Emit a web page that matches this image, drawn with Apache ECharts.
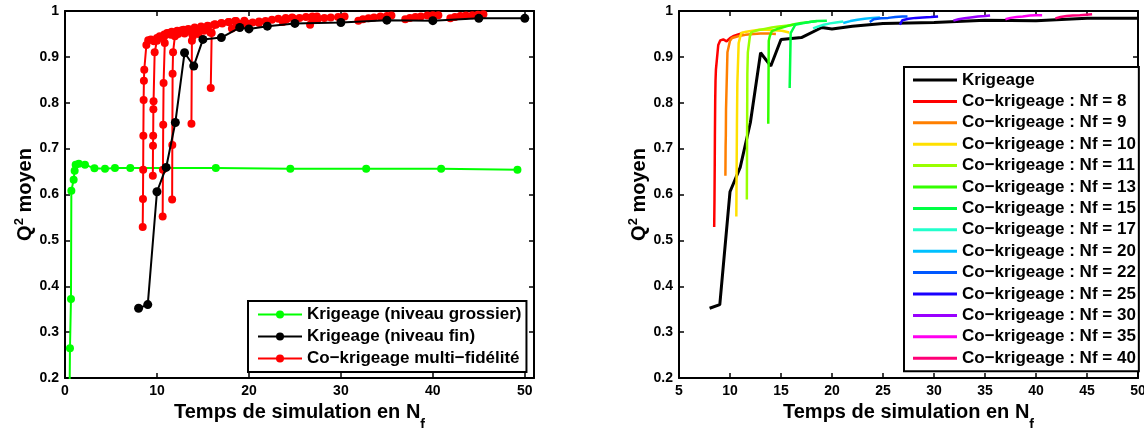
<!DOCTYPE html>
<html><head><meta charset="utf-8">
<script src="https://cdn.jsdelivr.net/npm/echarts@6/dist/echarts.min.js"></script>
<style>html,body{margin:0;padding:0;background:#fff}#c{width:1144px;height:428px}</style>
</head><body><div id="c"></div><script>
// ---- data: [time in N_f, mean Q2] ----
const coarseKrig = [[0.43,0.0],[0.54,0.265],[0.65,0.372],[0.69,0.608],[0.94,0.632],[1.05,0.652],[1.16,0.665],[1.5,0.667],[2.17,0.665],[3.2,0.657],[4.35,0.656],[5.43,0.658],[7.1,0.658],[16.4,0.658],[24.5,0.656],[32.75,0.656],[40.9,0.656],[49.2,0.654]];
const fineKrig = [[8,0.352],[9,0.36],[10,0.606],[11,0.659],[12,0.757],[13,0.909],[14,0.88],[15,0.938],[17,0.942],[19,0.964],[20,0.961],[22,0.967],[25,0.973],[30,0.975],[35,0.98],[40,0.979],[45,0.984],[50,0.984]];
const nfLevels = [8,9,10,11,13,15,17,20,22,25,30,35,40];
const coKrig8  = [[8.45,0.529],[8.48,0.59],[8.5,0.654],[8.52,0.728],[8.55,0.806],[8.58,0.848],[8.62,0.872],[8.85,0.926],[9.05,0.936],[9.34,0.938],[9.67,0.934],[10.0,0.941],[10.3,0.945],[10.8,0.949],[11.3,0.952]];
const coKrig9  = [[9.55,0.641],[9.57,0.706],[9.59,0.728],[9.61,0.786],[9.63,0.803],[9.75,0.91],[10.0,0.935],[10.2,0.941],[10.8,0.945],[11.5,0.948],[12.3,0.95],[13.0,0.951],[13.8,0.951],[14.5,0.95]];
const coKrig10 = [[10.62,0.552],[10.65,0.654],[10.68,0.752],[10.72,0.843],[10.85,0.93],[11.1,0.952],[11.6,0.955],[12.2,0.957],[12.9,0.959],[13.6,0.959],[14.3,0.958],[15.1,0.957],[15.8,0.953]];
const coKrig11 = [[11.65,0.589],[11.67,0.708],[11.7,0.863],[11.75,0.91],[11.95,0.945],[12.1,0.954],[12.7,0.958],[13.4,0.961],[14.1,0.964],[14.8,0.966],[15.5,0.968],[16.2,0.97]];
const coKrig13 = [[13.75,0.754],[13.8,0.935],[13.9,0.945],[14.1,0.956],[14.8,0.962],[15.6,0.967],[16.3,0.971],[17.0,0.974],[17.8,0.976],[18.5,0.978]];
const coKrig15 = [[15.85,0.832],[15.95,0.952],[16.4,0.97],[17.1,0.973],[17.8,0.976],[18.6,0.978],[19.5,0.979]];
const coKrig17 = [[18.15,0.962],[18.6,0.966],[19.2,0.97],[19.8,0.973],[20.4,0.975],[21.1,0.977]];
const coKrig20 = [[21.1,0.974],[21.8,0.978],[22.5,0.981],[23.2,0.983],[24.0,0.985],[24.7,0.986]];
const coKrig22 = [[23.7,0.976],[24.1,0.982],[24.8,0.984],[25.5,0.985],[26.2,0.987],[26.9,0.988],[27.4,0.988]];
const coKrig25 = [[26.65,0.97],[26.9,0.98],[27.5,0.983],[28.2,0.985],[28.9,0.986],[29.7,0.987],[30.4,0.988]];
const coKrig30 = [[31.9,0.979],[32.4,0.982],[33.0,0.984],[33.6,0.986],[34.3,0.988],[35.0,0.989],[35.5,0.99]];
const coKrig35 = [[37.0,0.982],[37.5,0.985],[38.1,0.987],[38.7,0.988],[39.4,0.99],[40.0,0.991],[40.6,0.991]];
const coKrig40 = [[41.9,0.984],[42.4,0.987],[43.0,0.989],[43.6,0.99],[44.3,0.991],[44.9,0.992],[45.5,0.993]];
const coKrigAll = [coKrig8,coKrig9,coKrig10,coKrig11,coKrig13,coKrig15,coKrig17,coKrig20,coKrig22,coKrig25,coKrig30,coKrig35,coKrig40];
const nfColors = ['#ff0000','#ff7f00','#ffe000','#99ff00','#33ff00','#00ff44','#22ffcc','#00c0ff','#0058ff','#1a00ff','#9900ff','#ff00f0','#ff0077'];
const yTicks = {min:0.2, max:1, interval:0.1};
const xLeft = {min:0, max:51, interval:10};
const xRight = {min:5, max:50, interval:5};

// ---- names ----
const nmCoarse = 'Krigeage (niveau grossier)';
const nmFine = 'Krigeage (niveau fin)';
const nmCo = 'Co\u2212krigeage multi\u2212fid\u00e9lit\u00e9';
const nmKrig = 'Krigeage';
const nmNf = nfLevels.map(n => 'Co\u2212krigeage : Nf = ' + n);

const FF = '"Liberation Sans", Arial, Helvetica, sans-serif';
const axisCommon = (extra) => Object.assign({
  type:'value', splitLine:{show:false},
  axisLine:{show:true, onZero:false, lineStyle:{color:'#000', width:2}},
  axisTick:{show:true, inside:true, length:5, lineStyle:{color:'#000', width:1.5}},
  axisLabel:{color:'#000', fontSize:14, fontWeight:'bold', fontFamily:FF, margin:6, showMaxLabel:true}
}, extra);
const noLab = {axisLabel:{show:false}};

const xName = {
  name:'{a|Temps de simulation en N}{b|f}', nameLocation:'middle', nameGap:13,
  nameTextStyle:{rich:{
    a:{fontSize:20, fontWeight:'bold', fontFamily:FF, color:'#000'},
    b:{fontSize:14, fontWeight:'bold', fontFamily:FF, color:'#000', padding:[24,0,0,0]}
  }}
};
const yName = {
  name:'{a|Q}{b|2}{a| moyen}', nameLocation:'middle', nameGap:23, nameRotate:90,
  nameTextStyle:{rich:{
    a:{fontSize:20, fontWeight:'bold', fontFamily:FF, color:'#000'},
    b:{fontSize:13, fontWeight:'bold', fontFamily:FF, color:'#000', padding:[0,0,12,0]}
  }}
};

const xAxes = [
  axisCommon(Object.assign({gridIndex:0, position:'bottom'}, xLeft, xName, {axisLabel:{color:'#000', fontSize:14, fontWeight:'bold', fontFamily:FF, margin:6, showMaxLabel:false}})),
  axisCommon(Object.assign({gridIndex:0, position:'top'}, xLeft, noLab)),
  axisCommon(Object.assign({gridIndex:1, position:'bottom'}, xRight, xName)),
  axisCommon(Object.assign({gridIndex:1, position:'top'}, xRight, noLab))
];
const yAxes = [
  axisCommon(Object.assign({gridIndex:0, position:'left'}, yTicks, yName)),
  axisCommon(Object.assign({gridIndex:0, position:'right'}, yTicks, noLab)),
  axisCommon(Object.assign({gridIndex:1, position:'left'}, yTicks, yName)),
  axisCommon(Object.assign({gridIndex:1, position:'right'}, yTicks, noLab))
];

const series = [];
// left panel
series.push({name:nmCoarse, type:'line', xAxisIndex:0, yAxisIndex:0, data:coarseKrig, symbol:'circle', symbolSize:8,
  itemStyle:{color:'#00ff00'}, lineStyle:{color:'#00ff00', width:2}, z:2});
coKrigAll.forEach(d => series.push({name:nmCo, type:'line', xAxisIndex:0, yAxisIndex:0, data:d, symbol:'circle', symbolSize:8,
  itemStyle:{color:'#ff0000'}, lineStyle:{color:'#ff0000', width:2}, z:3}));
series.push({name:nmFine, type:'line', xAxisIndex:0, yAxisIndex:0, data:fineKrig, symbol:'circle', symbolSize:9,
  itemStyle:{color:'#000'}, lineStyle:{color:'#000', width:2}, z:4});
// right panel
series.push({name:nmKrig, type:'line', xAxisIndex:2, yAxisIndex:2, data:fineKrig, symbol:'none',
  itemStyle:{color:'#000'}, lineStyle:{color:'#000', width:3}, z:2});
coKrigAll.forEach((d,i) => series.push({name:nmNf[i], type:'line', xAxisIndex:2, yAxisIndex:2, data:d, symbol:'none',
  itemStyle:{color:nfColors[i]}, lineStyle:{color:nfColors[i], width:2.5}, z:3}));

const legText = {fontSize:17, fontWeight:'bold', fontFamily:FF, color:'#000', lineHeight:17};
const option = {
  animation:false,
  backgroundColor:'#fff',
  grid:[{left:65, top:11, width:469, height:367, show:false, containLabel:false, outerBoundsMode:'none'},
        {left:679, top:11, width:459, height:367, show:false, containLabel:false, outerBoundsMode:'none'}],
  xAxis:xAxes, yAxis:yAxes,
  legend:[
    {left:248, top:301, orient:'vertical', data:[nmCoarse,nmFine,nmCo], itemWidth:44, itemHeight:10, itemGap:5,
     padding:[5,5,5,9], borderColor:'#000', borderWidth:2, backgroundColor:'#fff', textStyle:legText, selectedMode:false},
    {left:904, top:67, orient:'vertical', data:[nmKrig].concat(nmNf).map(n => ({name:n, icon:'rect'})), itemWidth:44, itemHeight:3, itemGap:4.4,
     padding:[4.5,3,4.5,9], borderColor:'#000', borderWidth:2, backgroundColor:'#fff', textStyle:legText, selectedMode:false}
  ],
  series:series
};
const chart = echarts.init(document.getElementById('c'), null, {renderer:'canvas'});
chart.setOption(option);
</script></body></html>
